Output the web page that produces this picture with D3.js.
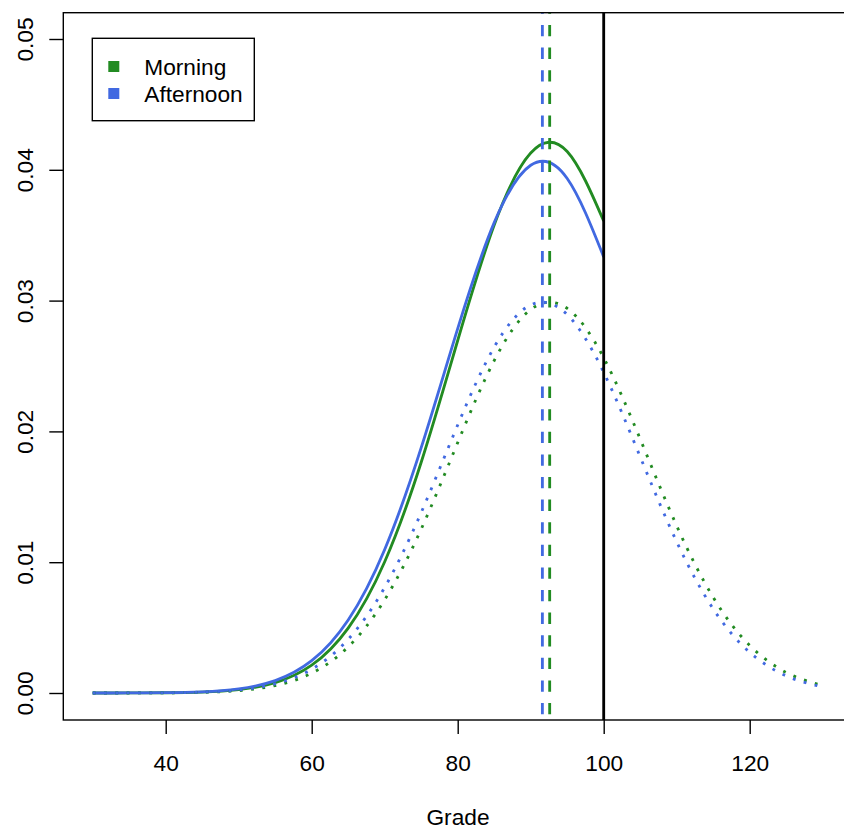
<!DOCTYPE html>
<html>
<head>
<meta charset="utf-8">
<script src="https://cdn.jsdelivr.net/npm/d3@7"></script>
<style>
  html, body { margin: 0; padding: 0; background: #fff; }
  svg { display: block; font-family: "Liberation Sans", Arial, Helvetica, sans-serif; }
</style>
</head>
<body>
<svg id="chart" width="844" height="828"></svg>
<script>
// ---- data ----
const gradeTrunc = [30,35,40,45,50,55,60,65,70,75,80,85,90,95,100];
const gradeFull  = [30,35,40,45,50,55,60,65,70,75,80,85,90,95,100,105,110,115,120,125,129.3];

const morningTrunc   = [0.0000007,0.0000038,0.0000179,0.0000731,0.0002589,0.000797,0.002133,0.004964,0.010038,0.017642,0.026951,0.035778,0.041281,0.041397,0.036081];
const afternoonTrunc = [0.0000010,0.0000051,0.0000232,0.0000919,0.0003166,0.0009478,0.002467,0.005582,0.010975,0.018757,0.027858,0.035960,0.040345,0.039338,0.033339];

const morningFull   = [0.0000005,0.0000027,0.0000127,0.0000519,0.0001839,0.000566,0.001515,0.003526,0.007130,0.012531,0.019143,0.025413,0.029322,0.029404,0.025628,0.019413,0.012780,0.007312,0.003637,0.001572,0.000683];
const afternoonFull = [0.0000007,0.0000037,0.0000170,0.0000676,0.0002328,0.000697,0.001814,0.004105,0.008071,0.013794,0.020487,0.026445,0.029669,0.028929,0.024517,0.018057,0.011559,0.006431,0.003110,0.001307,0.000554];

const seriesNames = ["Morning", "Afternoon"];
const seriesMeans = [92.6, 91.6];
const cutoff = 100;

const xTicks = [40, 60, 80, 100, 120];
const yTicks = [0.00, 0.01, 0.02, 0.03, 0.04, 0.05];
const xLabel = "Grade";

// ---- layout ----
const colors = { Morning: "#228B22", Afternoon: "#4169E1" };
const plot = { left: 63.3, top: 12.7, right: 847, bottom: 720 };
const fontSize = 22.7;
const lw = 2.83;

const svg = d3.select("#chart");

const x = d3.scaleLinear().domain([40, 120]).range([165.7, 749.7]);
const y = d3.scaleLinear().domain([0, 0.05]).range([693, 39]);

// clip to plot region
svg.append("defs").append("clipPath").attr("id", "clip")
  .append("rect")
  .attr("x", plot.left).attr("y", plot.top)
  .attr("width", plot.right - plot.left).attr("height", plot.bottom - plot.top);

const g = svg.append("g").attr("clip-path", "url(#clip)");

const line = d3.line()
  .x(d => x(d[0]))
  .y(d => y(d[1]))
  .curve(d3.curveNatural);

const truncData = {
  Morning: gradeTrunc.map((v, i) => [v, morningTrunc[i]]),
  Afternoon: gradeTrunc.map((v, i) => [v, afternoonTrunc[i]])
};
const fullData = {
  Morning: gradeFull.map((v, i) => [v, morningFull[i]]),
  Afternoon: gradeFull.map((v, i) => [v, afternoonFull[i]])
};

// solid truncated curves
seriesNames.forEach(name => {
  g.append("path")
    .attr("d", line(truncData[name]))
    .attr("fill", "none")
    .attr("stroke", colors[name])
    .attr("stroke-width", lw);
});

// dotted full curves
seriesNames.forEach(name => {
  g.append("path")
    .attr("d", line(fullData[name]))
    .attr("fill", "none")
    .attr("stroke", colors[name])
    .attr("stroke-width", lw)
    .attr("stroke-dasharray", "2.83,8.49");
});

// dashed mean lines
seriesNames.forEach((name, i) => {
  g.append("line")
    .attr("x1", x(seriesMeans[i])).attr("x2", x(seriesMeans[i]))
    .attr("y1", plot.top).attr("y2", plot.bottom)
    .attr("stroke", colors[name])
    .attr("stroke-width", lw)
    .attr("stroke-dasharray", "11.3,11.3")
    .attr("stroke-dashoffset", 10.3);
});

// cutoff line
g.append("line")
  .attr("x1", x(cutoff)).attr("x2", x(cutoff))
  .attr("y1", plot.top).attr("y2", plot.bottom)
  .attr("stroke", "#000")
  .attr("stroke-width", lw);

// box
svg.append("rect")
  .attr("x", plot.left).attr("y", plot.top)
  .attr("width", plot.right - plot.left).attr("height", plot.bottom - plot.top)
  .attr("fill", "none").attr("stroke", "#000").attr("stroke-width", 1.4);

// x axis
const xAxis = d3.axisBottom(x).tickValues(xTicks).tickSize(14).tickPadding(0).tickFormat(d3.format("d"));
const gx = svg.append("g").attr("transform", `translate(0,${plot.bottom})`).call(xAxis);
gx.select(".domain").remove();
gx.selectAll(".tick line").attr("stroke", "#000").attr("stroke-width", 1.4);
gx.selectAll(".tick text")
  .attr("fill", "#000")
  .attr("font-size", fontSize)
  .attr("font-family", "Liberation Sans, Arial, sans-serif")
  .attr("dy", null)
  .attr("y", 50.5);

// y axis
const yAxis = d3.axisLeft(y).tickValues(yTicks).tickSize(14).tickFormat(d3.format(".2f"));
const gy = svg.append("g").attr("transform", `translate(${plot.left},0)`).call(yAxis);
gy.select(".domain").remove();
gy.selectAll(".tick line").attr("stroke", "#000").attr("stroke-width", 1.4);
gy.selectAll(".tick text")
  .attr("fill", "#000")
  .attr("font-size", fontSize)
  .attr("font-family", "Liberation Sans, Arial, sans-serif")
  .attr("x", null).attr("dy", null)
  .attr("text-anchor", "middle")
  .attr("transform", `translate(${32.5 - plot.left},0) rotate(-90)`);

// x label
svg.append("text")
  .attr("x", 458).attr("y", 825)
  .attr("text-anchor", "middle")
  .attr("font-size", fontSize)
  .attr("fill", "#000")
  .text(xLabel);

// legend
const legend = svg.append("g");
legend.append("rect")
  .attr("x", 92.3).attr("y", 38.3)
  .attr("width", 162).attr("height", 82.4)
  .attr("fill", "#fff").attr("stroke", "#000").attr("stroke-width", 1.4);
seriesNames.forEach((name, i) => {
  legend.append("rect")
    .attr("x", 108.3).attr("y", 61 + i * 27)
    .attr("width", 11).attr("height", 11)
    .attr("fill", colors[name]);
  legend.append("text")
    .attr("x", 144.3).attr("y", 75 + i * 27)
    .attr("font-size", fontSize)
    .attr("fill", "#000")
    .text(name);
});
</script>
</body>
</html>
